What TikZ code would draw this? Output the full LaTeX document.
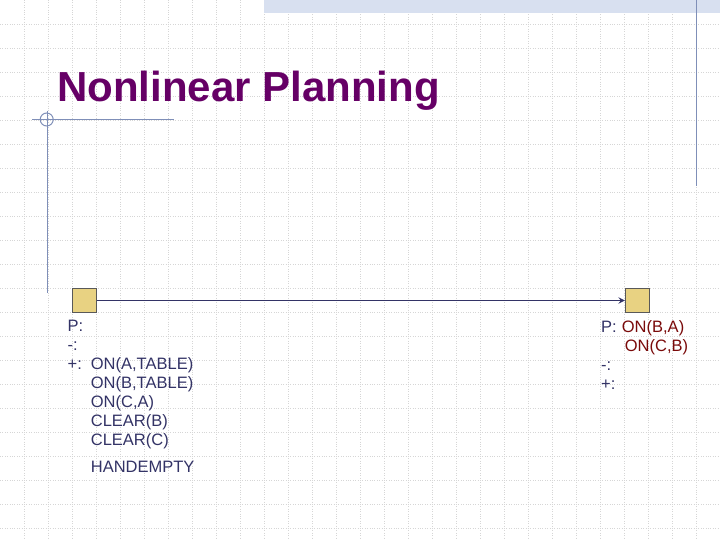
\documentclass[tikz,border=0pt]{standalone}
\usepackage{fontspec}
\setmainfont{Liberation Sans}
\usetikzlibrary{shapes,arrows,positioning}
\definecolor{titlepurple}{HTML}{660066}
\definecolor{textnavy}{HTML}{333366}
\definecolor{goalred}{HTML}{7A0A0A}
\definecolor{stepgold}{HTML}{E8D282}
\definecolor{rulegray}{HTML}{7F8FB8}
\definecolor{bandblue}{HTML}{D8E0F0}
\definecolor{gridgray}{HTML}{D6D6D6}
\tikzstyle{stepbox} = [rectangle, minimum width=24pt, minimum height=24pt, inner sep=0pt, draw=black!65, fill=stepgold, line width=0.8pt]
\tikzstyle{arrow} = [->, line width=1.8pt, draw=textnavy, >=stealth]
\tikzstyle{cond} = [inner sep=0pt, anchor=base west, text=textnavy, font=\fontsize{16.5}{19}\selectfont]
\tikzstyle{rule} = [draw=rulegray, line width=1pt]

\begin{document}
\begin{tikzpicture}[x=1pt,y=-1pt]
\useasboundingbox (0,0) rectangle (720,540);
\fill[white] (0,0) rectangle (720,540);
% slide grid
\foreach \g in {24,48,...,720} \draw[gridgray,dotted] (\g,0) -- (\g,540);
\foreach \g in {24,48,...,528} \draw[gridgray,dotted] (0,\g) -- (720,\g);
\fill[bandblue] (264,0) rectangle (720,13);
\draw[rule] (696,0) -- (696,186);
\draw[rule] (32,119.5) -- (174,119.5);
\draw[rule] (47.3,111) -- (47.3,293);
\draw[rule] (46.7,119.5) circle (6.5);

\node(title)[anchor=base west, inner sep=0pt, text=titlepurple, font=\fontsize{42}{50}\selectfont\bfseries] at (57,102) {Nonlinear Planning};

\node(start) [stepbox] at (84.5,300.5) {};
\node(finish)[stepbox, right=528pt of start] {};

\node(pre)[cond] at (67.5,331.7) {\begin{tabular}[t]{@{}p{23.2pt}@{}l@{}}
P: & \\
-: & \\
+: & ON(A,TABLE)\\
 & ON(B,TABLE)\\
 & ON(C,A)\\
 & CLEAR(B)\\
 & CLEAR(C)\\[8pt]
 & HANDEMPTY
\end{tabular}};

\node(goal)[cond] at (601,332.7) {\begin{tabular}[t]{@{}p{20.7pt}@{}l@{}}
P: & \textcolor{goalred}{ON(B,A)}\\
 & \textcolor{goalred}{\hspace{3pt}ON(C,B)}\\
-: & \\
+: &
\end{tabular}};

\draw[arrow] (start) -- (finish);

\end{tikzpicture}
\end{document}
